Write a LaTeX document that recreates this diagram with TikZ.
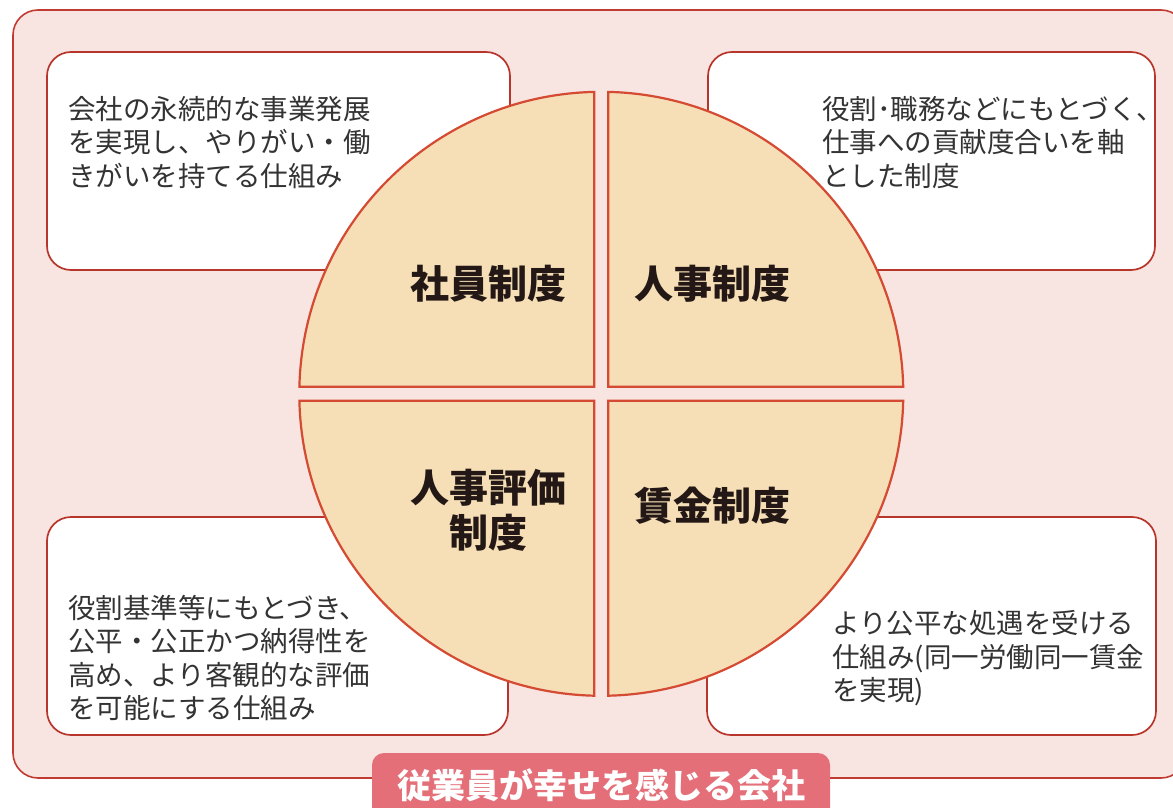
\documentclass[tikz,border=0pt]{standalone}
\usepackage{fontspec}
\setmainfont{Noto Sans CJK JP}
\definecolor{bgpink}{HTML}{F8E4E0}
\definecolor{outerline}{HTML}{C23B32}
\definecolor{boxline}{HTML}{B8352C}
\definecolor{quadfill}{HTML}{F6DFB6}
\definecolor{quadline}{HTML}{D44A32}
\definecolor{labelfill}{HTML}{E46F79}
\definecolor{textgray}{HTML}{333333}
\definecolor{labeltext}{HTML}{231815}
\tikzset{
  descbox/.style={draw=boxline, fill=white, line width=1.7pt, rounded corners=24pt},
  quadpiece/.style={draw=quadline, fill=quadfill, line width=2.2pt, line join=miter},
  desctext/.style={anchor=base west, inner sep=0pt, align=left, text=textgray,
    font=\fontsize{27.5}{33.5}\selectfont},
  quadtext/.style={anchor=base, inner sep=0pt, align=center, text=labeltext,
    font=\fontsize{39}{45}\selectfont\bfseries},
}
\begin{document}
\begin{tikzpicture}[x=1pt,y=1pt]
\useasboundingbox (0,0) rectangle (1173,-808);
% outer frame
\draw[fill=bgpink, draw=outerline, line width=1.6pt, rounded corners=25pt] (13,-10) rectangle (1186,-778);
% description boxes
\draw[descbox] (47,-52) rectangle (510,-270);
\draw[descbox] (708,-52) rectangle (1155,-270);
\draw[descbox] (47,-517) rectangle (508,-735);
\draw[descbox] (707,-517) rectangle (1156,-735);
% circle pieces
\def\R{302}
\def\dd{1.33}
\coordinate (C) at (601.3,-393.8);
\begin{scope}[shift={(C)}]
  \draw[quadpiece] (-7,7) -- (90+\dd:\R) arc[start angle=90+\dd, end angle=180-\dd, radius=\R] -- cycle;
  \draw[quadpiece] (7,7) -- (\dd:\R) arc[start angle=\dd, end angle=90-\dd, radius=\R] -- cycle;
  \draw[quadpiece] (-7,-7) -- (180+\dd:\R) arc[start angle=180+\dd, end angle=270-\dd, radius=\R] -- cycle;
  \draw[quadpiece] (7,-7) -- (270+\dd:\R) arc[start angle=270+\dd, end angle=360-\dd, radius=\R] -- cycle;
\end{scope}
% quadrant labels (base anchor = baseline of last line)
\node[quadtext] (shain) at (488.5,-298) {社員制度};
\node[quadtext] (jinji) at (712,-298) {人事制度};
\node[quadtext] (hyoka) at (488,-547) {人事評価\\制度};
\node[quadtext] (chingin) at (712,-520) {賃金制度};
% descriptions (base anchor = baseline of last line)
\node[desctext] (d1) at (68,-186) {会社の永続的な事業発展\\を実現し、やりがい・働\\きがいを持てる仕組み};
\node[desctext] (d2) at (822,-186) {役割･職務などにもとづく、\\仕事への貢献度合いを軸\\とした制度};
\node[desctext] (d3) at (68,-718.5) {役割基準等にもとづき、\\公平・公正かつ納得性を\\高め、より客観的な評価\\を可能にする仕組み};
\node[desctext] (d4) at (832,-700.5) {より公平な処遇を受ける\\仕組み(同一労働同一賃金\\を実現)};
% bottom label
\fill[labelfill, rounded corners=12pt] (372,-830) rectangle (830,-753);
\node[anchor=base, inner sep=0pt, text=white, font=\fontsize{34}{40}\selectfont\bfseries] (title) at (601,-798) {従業員が幸せを感じる会社};
\end{tikzpicture}
\end{document}
